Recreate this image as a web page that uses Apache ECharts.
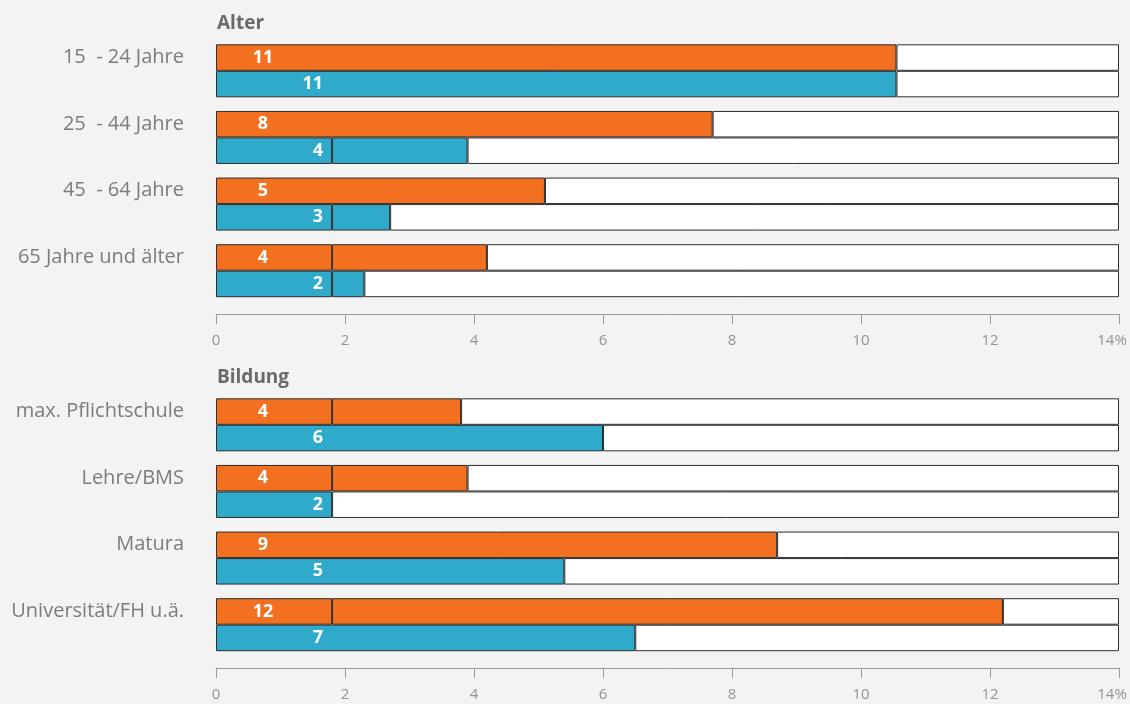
<!DOCTYPE html>
<html>
<head>
<meta charset="utf-8">
<script src="https://cdn.jsdelivr.net/npm/echarts@6/dist/echarts.min.js"></script>
<style>
html,body{margin:0;padding:0;background:#f3f3f3;}
#chart{width:1130px;height:704px;}
</style>
</head>
<body>
<div id="chart"></div>
<script>
// ---- data ----
const ageCategories = ['15  - 24 Jahre', '25  - 44 Jahre', '45  - 64 Jahre', '65 Jahre und älter'];
const ageOrange = [10.55, 7.7, 5.1, 4.2];
const ageBlue = [10.55, 3.9, 2.7, 2.3];
const ageOrangeDivider = [false, false, false, true];
const ageBlueDivider = [false, true, true, true];

const eduCategories = ['max. Pflichtschule', 'Lehre/BMS', 'Matura', 'Universität/FH u.ä.'];
const eduOrange = [3.8, 3.9, 8.7, 12.2];
const eduBlue = [6.0, 1.8, 5.4, 6.5];
const eduOrangeDivider = [true, true, false, true];
const eduBlueDivider = [false, true, false, false];

const panelTitles = ['Alter', 'Bildung'];
const axisMax = 14;
const axisInterval = 2;

// ---- build ----
const ORANGE = '#f37021';
const BLUE = '#30aaca';
const BORDER = '#2d2d2d';
const BOX = 1.8;
const FONT = 'Open Sans';

function segments(values, dividers) {
  const a = [], b = [], w = [];
  values.forEach((v, i) => {
    if (dividers[i] && v > BOX) { a.push(BOX); b.push(+(v - BOX).toFixed(3)); }
    else { a.push(v); b.push('-'); }
    w.push(+(axisMax - v).toFixed(3));
  });
  return { a, b, w };
}

function barSeries(idx, values, dividers, color, stack, labelPos, labelAlign) {
  const s = segments(values, dividers);
  const common = {
    type: 'bar', xAxisIndex: idx, yAxisIndex: idx, stack: stack + idx,
    barWidth: 26.5, barGap: '0%', silent: true, animation: false
  };
  return [
    Object.assign({}, common, {
      data: s.a,
      itemStyle: { color: color, borderColor: BORDER, borderWidth: 1 },
      label: {
        show: true, position: labelPos, align: labelAlign, verticalAlign: 'middle',
        color: '#fff', fontFamily: FONT, fontWeight: 'bold', fontSize: 18,
        formatter: p => String(Math.round(values[p.dataIndex]))
      }
    }),
    Object.assign({}, common, {
      data: s.b,
      itemStyle: { color: color, borderColor: BORDER, borderWidth: 1 }
    }),
    Object.assign({}, common, {
      data: s.w,
      itemStyle: { color: '#ffffff', borderColor: BORDER, borderWidth: 1 }
    })
  ];
}

const grids = [
  { left: 216, right: 11, top: 37.5, height: 266.5 },
  { left: 216, right: 11, top: 391.5, height: 266.5 }
];

function xAxisFor(i) {
  return {
    gridIndex: i, type: 'value', min: 0, max: axisMax, interval: axisInterval,
    position: 'bottom', offset: 10,
    axisLine: { show: true, lineStyle: { color: '#9a9a9a', width: 1 } },
    axisTick: { show: true, length: 10, lineStyle: { color: '#9a9a9a' } },
    splitLine: { show: false },
    axisLabel: {
      color: '#939393', fontFamily: FONT, fontSize: 15, margin: 19,
      formatter: v => v === axisMax ? '{m|' + v + '%}' : String(v),
      rich: { m: { color: '#939393', fontFamily: FONT, fontSize: 15, padding: [0, 14, 0, 0] } }
    }
  };
}

function yAxisFor(i, cats) {
  return {
    gridIndex: i, type: 'category', data: cats, inverse: true,
    axisLine: { show: false }, axisTick: { show: false }, splitLine: { show: false },
    axisLabel: {
      color: '#7c7c7c', fontFamily: FONT, fontSize: 20, margin: 32,
      verticalAlign: 'bottom', lineHeight: 27
    }
  };
}

const series = [].concat(
  barSeries(0, ageOrange, ageOrangeDivider, ORANGE, 'o', [47, '50%'], 'center'),
  barSeries(0, ageBlue, ageBlueDivider, BLUE, 'b', [107, '50%'], 'right'),
  barSeries(1, eduOrange, eduOrangeDivider, ORANGE, 'o', [47, '50%'], 'center'),
  barSeries(1, eduBlue, eduBlueDivider, BLUE, 'b', [107, '50%'], 'right')
);

const chart = echarts.init(document.getElementById('chart'), null, { renderer: 'canvas' });
chart.setOption({
  backgroundColor: '#f3f3f3',
  animation: false,
  title: [
    { text: panelTitles[0], left: 212, top: 9, textStyle: { color: '#6a6a6a', fontFamily: FONT, fontWeight: 'bold', fontSize: 19 } },
    { text: panelTitles[1], left: 212, top: 363, textStyle: { color: '#6a6a6a', fontFamily: FONT, fontWeight: 'bold', fontSize: 19 } }
  ],
  grid: grids,
  xAxis: [xAxisFor(0), xAxisFor(1)],
  yAxis: [yAxisFor(0, ageCategories), yAxisFor(1, eduCategories)],
  series: series
});
</script>
</body>
</html>
